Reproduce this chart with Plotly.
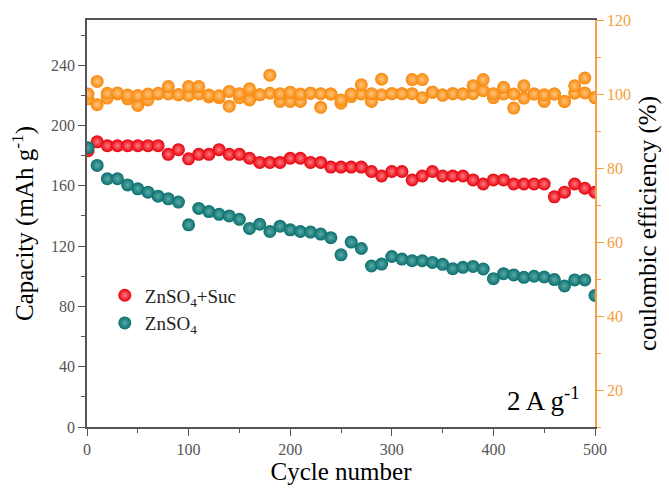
import plotly.graph_objects as go

# Cycle index of each recorded point
cycles = [1] + list(range(10, 500, 10)) + [500]

# Discharge capacity (mAh g-1)
cap_suc = [183.3, 189.2, 186.6, 186.6, 186.6, 186.6, 186.6, 186.6, 180.9, 184.0,
           177.9, 180.9, 180.9, 184.0, 180.9, 180.9, 178.3, 175.5, 175.5, 175.5,
           178.3, 178.3, 175.5, 175.5, 172.4, 172.4, 172.4, 172.4, 169.5, 166.5,
           169.5, 169.5, 163.9, 166.5, 169.5, 166.5, 166.5, 166.5, 163.9, 161.2,
           163.9, 163.9, 161.2, 161.2, 161.2, 161.2, 152.7, 155.8, 161.2, 158.4,
           155.8]
cap_znso4 = [185.3, 173.5, 164.7, 164.7, 160.6, 158.0, 155.8, 153.1, 151.4, 149.2,
             134.1, 145.0, 142.9, 141.1, 140.0, 137.8, 131.7, 134.5, 129.7, 133.2,
             130.8, 129.7, 129.3, 128.0, 125.6, 114.2, 122.7, 118.4, 106.8, 108.1,
             113.1, 111.4, 110.3, 110.3, 109.2, 107.9, 105.0, 105.9, 106.5, 104.8,
             98.4, 101.7, 100.9, 99.3, 100.0, 99.5, 97.8, 93.6, 97.6, 97.6,
             87.3]

# Coulombic efficiency (%)
ce_suc = [100.0, 103.4, 100.2, 100.3, 99.7, 99.6, 100.0, 100.2, 102.0, 99.8,
          102.0, 102.0, 99.7, 99.5, 100.7, 100.1, 101.4, 99.8, 105.1, 100.1,
          100.5, 100.0, 100.2, 100.1, 100.0, 98.4, 100.0, 102.5, 100.1, 104.0,
          100.1, 100.1, 103.9, 103.9, 100.5, 99.7, 100.1, 100.0, 102.2, 103.9,
          100.1, 101.8, 100.0, 102.2, 100.0, 99.8, 100.0, 98.0, 102.2, 104.3,
          99.0]
ce_znso4 = [98.7, 97.1, 98.9, 100.0, 98.7, 96.9, 98.4, 100.0, 100.0, 99.8,
            99.6, 100.0, 99.2, 99.0, 96.7, 99.0, 98.4, 99.8, 100.2, 98.0,
            98.0, 98.0, 100.2, 96.4, 100.0, 97.5, 99.3, 100.0, 98.0, 99.8,
            100.1, 100.1, 100.1, 99.0, 100.5, 99.7, 100.1, 100.0, 100.1, 100.9,
            99.0, 100.0, 96.2, 98.9, 100.0, 98.0, 100.0, 98.0, 100.2, 100.3,
            99.0]

x_ticks = [0, 100, 200, 300, 400, 500]
cap_ticks = [0, 40, 80, 120, 160, 200, 240]
ce_ticks = [20, 40, 60, 80, 100, 120]

FONT = "Liberation Serif, Times New Roman, serif"
RED, RED_HI = "#e6000c", "#ff7a7e"
TEAL, TEAL_HI = "#0a6f6e", "#58aaa6"
ORANGE, ORANGE_HI = "#f8870a", "#ffc47a"
AXIS_GRAY = "#555555"
AXIS_ORANGE = "#f2a040"
MSIZE = 13


def ball(color, hi):
    return dict(size=MSIZE, color=color, line=dict(width=0),
                gradient=dict(type="radial", color=hi))


fig = go.Figure()

fig.add_trace(go.Scatter(x=cycles, y=cap_suc, mode="markers",
                         name="ZnSO<sub>4</sub>+Suc", marker=ball(RED, RED_HI)))
fig.add_trace(go.Scatter(x=cycles, y=cap_znso4, mode="markers",
                         name="ZnSO<sub>4</sub>", marker=ball(TEAL, TEAL_HI)))
fig.add_trace(go.Scatter(x=cycles, y=ce_znso4, mode="markers", yaxis="y2",
                         showlegend=False, marker=ball(ORANGE, ORANGE_HI)))
fig.add_trace(go.Scatter(x=cycles, y=ce_suc, mode="markers", yaxis="y2",
                         showlegend=False, marker=ball(ORANGE, ORANGE_HI)))

fig.update_layout(
    width=669, height=490,
    margin=dict(l=87, r=72, t=18, b=59),
    paper_bgcolor="white", plot_bgcolor="white",
    font=dict(family=FONT, size=16, color="black"),
    showlegend=True,
    legend=dict(x=0.035, y=0.37, xanchor="left", yanchor="top",
                bgcolor="rgba(0,0,0,0)", font=dict(family=FONT, size=19, color="#222"),
                tracegroupgap=2, itemwidth=30),
    xaxis=dict(
        range=[0, 500], tickvals=x_ticks, ticktext=[str(v) for v in x_ticks],
        showgrid=False, zeroline=False,
        showline=True, linecolor=AXIS_GRAY, linewidth=1.6, mirror=True,
        ticks="outside", ticklen=7, tickwidth=1.4, tickcolor=AXIS_GRAY,
        minor=dict(dtick=50, tick0=0, ticks="outside", ticklen=4, tickwidth=1.2,
                   tickcolor=AXIS_GRAY, showgrid=False),
        tickfont=dict(family=FONT, size=16, color=AXIS_GRAY),
        title=dict(text="Cycle number", font=dict(family=FONT, size=25, color="black"),
                   standoff=2),
    ),
    yaxis=dict(
        range=[0, 270], tickvals=cap_ticks, ticktext=[str(v) for v in cap_ticks],
        showgrid=False, zeroline=False,
        showline=True, linecolor=AXIS_GRAY, linewidth=1.6,
        ticks="outside", ticklen=7, tickwidth=1.4, tickcolor=AXIS_GRAY,
        minor=dict(dtick=20, tick0=0, ticks="outside", ticklen=4, tickwidth=1.2,
                   tickcolor=AXIS_GRAY, showgrid=False),
        tickfont=dict(family=FONT, size=16, color=AXIS_GRAY),
        title=dict(text="Capacity (mAh g<sup>-1</sup>)",
                   font=dict(family=FONT, size=25, color="black"), standoff=10),
    ),
    yaxis2=dict(
        overlaying="y", side="right", anchor="x",
        range=[10, 120], tickvals=ce_ticks, ticktext=[str(v) for v in ce_ticks],
        showgrid=False, zeroline=False,
        showline=True, linecolor=AXIS_ORANGE, linewidth=1.8,
        ticks="outside", ticklen=7, tickwidth=1.4, tickcolor=AXIS_ORANGE,
        minor=dict(dtick=10, tick0=0, ticks="outside", ticklen=4, tickwidth=1.2,
                   tickcolor=AXIS_ORANGE, showgrid=False),
        tickfont=dict(family=FONT, size=16, color=AXIS_ORANGE),
        title=dict(text="coulombic efficiency (%)",
                   font=dict(family=FONT, size=25, color="black"), standoff=8),
    ),
    annotations=[dict(
        text="2 A g<sup>-1</sup>", xref="paper", yref="paper",
        x=0.975, y=0.07, xanchor="right", yanchor="middle", showarrow=False,
        font=dict(family=FONT, size=27, color="black"),
    )],
)

fig.write_html("out.html")
